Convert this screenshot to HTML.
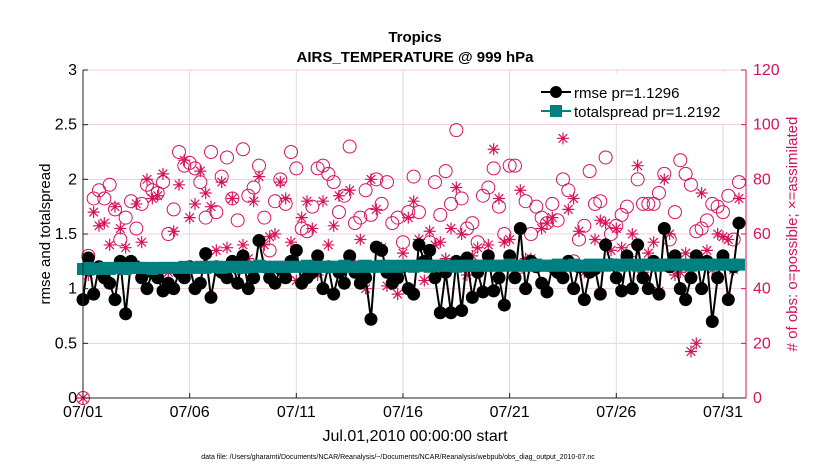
<!DOCTYPE html>
<html><head><meta charset="utf-8">
<style>
body{margin:0;background:#fff;}
svg{display:block;font-family:"Liberation Sans",Arial,sans-serif;}
</style></head>
<body>
<svg id="chart" width="830" height="470" viewBox="0 0 830 470" xmlns="http://www.w3.org/2000/svg">
<text x="415" y="42" text-anchor="middle" font-size="15" font-weight="bold">Tropics</text>
<text x="415" y="62" text-anchor="middle" font-size="15" font-weight="bold">AIRS_TEMPERATURE @ 999 hPa</text>
<g id="grid"></g>
<g id="obs"></g>
<g id="lines"></g>
<g id="axes"></g>
<text transform="translate(50,234) rotate(-90)" text-anchor="middle" font-size="15">rmse and totalspread</text>
<text transform="translate(797,234) rotate(-90)" text-anchor="middle" font-size="15" fill="#d6135a"># of obs: o=possible; ×=assimilated</text>
<text x="415" y="441" text-anchor="middle" font-size="16">Jul.01,2010 00:00:00 start</text>
<text x="398" y="459" text-anchor="middle" font-size="7">data file: /Users/gharamti/Documents/NCAR/Reanalysis/~/Documents/NCAR/Reanalysis/webpub/obs_diag_output_2010-07.nc</text>
<g>
<rect x="531" y="73" width="212" height="50" fill="#fff"/>
<g>
<line x1="541" y1="92" x2="571" y2="92" stroke="#000" stroke-width="2"/><circle cx="556" cy="92" r="6" fill="#000"/>
<text x="574" y="98" font-size="15">rmse pr=1.1296</text></g>
<g>
<line x1="541" y1="111" x2="571" y2="111" stroke="#008080" stroke-width="2"/><rect x="550" y="105" width="12" height="12" fill="#008080"/>
<text x="574" y="117" font-size="15">totalspread pr=1.2192</text></g>
</g>
</svg>
<script>
const xTickLabels=["07/01","07/06","07/11","07/16","07/21","07/26","07/31"];
const xTickDays=[1,6,11,16,21,26,31];
const yLeftTicks=["0","0.5","1","1.5","2","2.5","3"];
const yRightTicks=["0","20","40","60","80","100","120"];
const rmse=[0.9,1.28,0.95,1.2,1.1,1.05,0.9,1.25,0.77,1.25,1.2,1.1,1.0,1.15,1.1,0.98,1.05,1.0,1.15,1.1,1.2,1.0,1.05,1.32,0.92,1.2,1.15,1.1,1.25,1.05,1.3,1.0,1.1,1.44,1.2,1.1,1.05,1.18,1.1,1.25,1.35,1.05,1.1,1.15,1.3,1.0,1.2,0.95,1.15,1.05,1.3,1.15,1.05,1.1,0.72,1.38,1.35,1.15,1.05,1.1,1.2,1.0,0.95,1.4,1.25,1.35,1.1,0.78,1.15,0.78,1.25,0.8,1.28,0.92,1.15,0.97,1.3,0.98,1.1,0.85,1.3,1.1,1.55,1.0,1.25,1.2,1.05,0.97,1.2,1.15,1.1,1.25,1.0,1.2,0.9,1.15,1.18,0.95,1.4,1.22,1.1,0.98,1.3,1.0,1.4,1.1,1.0,1.25,0.95,1.55,1.2,1.3,1.0,0.9,1.1,1.3,1.0,1.25,0.7,1.1,1.3,0.9,1.2,1.6];
const spread=[1.18,1.19,1.18,1.18,1.19,1.18,1.19,1.19,1.18,1.19,1.19,1.19,1.19,1.18,1.19,1.19,1.19,1.19,1.19,1.2,1.19,1.19,1.2,1.19,1.2,1.2,1.19,1.2,1.2,1.2,1.19,1.2,1.2,1.21,1.2,1.2,1.2,1.2,1.2,1.2,1.2,1.2,1.21,1.2,1.2,1.2,1.2,1.2,1.2,1.21,1.2,1.2,1.2,1.21,1.2,1.2,1.21,1.2,1.21,1.2,1.21,1.21,1.2,1.21,1.21,1.2,1.21,1.21,1.21,1.21,1.2,1.21,1.21,1.21,1.21,1.21,1.21,1.21,1.21,1.21,1.22,1.21,1.21,1.21,1.21,1.22,1.21,1.21,1.21,1.22,1.21,1.21,1.22,1.21,1.21,1.22,1.21,1.22,1.21,1.22,1.22,1.21,1.22,1.22,1.21,1.22,1.22,1.22,1.21,1.22,1.22,1.22,1.22,1.22,1.21,1.22,1.22,1.22,1.22,1.22,1.22,1.22,1.22,1.22];
const possible=[0,52,73,76,73,78,69,58,66,72,62,71,78,76,75,79,60,69,90,85,86,84,79,66,90,68,81,88,73,65,91,74,77,85,66,54,72,80,71,90,84,62,61,70,84,85,82,79,68,74,92,64,66,76,67,80,71,79,64,66,57,68,81,68,53,57,79,67,83,71,98,73,62,64,57,74,77,84,70,60,85,85,48,72,60,70,66,64,71,65,80,76,50,58,63,83,71,72,88,60,63,67,70,54,80,71,71,71,75,82,58,68,87,82,78,61,62,65,71,70,68,74,58,79];
const assim=[0,45,68,63,64,56,70,62,55,49,71,57,80,73,74,82,46,61,78,87,66,71,83,75,70,54,79,55,73,47,56,51,72,81,56,59,60,79,73,57,43,66,72,62,45,72,56,63,74,48,76,49,58,40,80,69,55,41,42,38,53,66,72,58,43,61,56,57,51,62,77,60,45,52,55,48,56,91,73,57,58,47,76,51,51,49,62,64,66,47,95,69,73,61,46,48,58,65,64,54,62,55,49,60,85,46,53,57,39,80,60,45,46,53,17,20,75,54,47,60,59,58,47,73];

const NS="http://www.w3.org/2000/svg";
const L=83,R=746,T=70,B=398,D0=1,D1=32.08;
const xs=d=>L+(d-D0)/(D1-D0)*(R-L);
const yl=v=>B-v/3*(B-T);
const yr=v=>B-v/120*(B-T);
const dayOf=i=>1+i*0.25;
function mk(tag,attrs,parent){const e=document.createElementNS(NS,tag);for(const k in attrs)e.setAttribute(k,attrs[k]);parent.appendChild(e);return e;}
const grid=document.getElementById('grid'),axes=document.getElementById('axes'),obs=document.getElementById('obs'),lines=document.getElementById('lines');
mk('rect',{x:L,y:T,width:R-L,height:B-T,fill:'#fff'},grid);
yLeftTicks.forEach((t,i)=>{const y=yl(parseFloat(t));
 const g=mk('line',{x1:L,x2:R,y1:y,y2:y,stroke:'#f3cde0','stroke-width':1},grid);
 
 
 const tl=mk('text',{x:L-6,y:y+5,'text-anchor':'end','font-size':16},axes);tl.textContent=t;
 
 
 mk('line',{x1:L,x2:L+5,y1:y,y2:y,stroke:'#222'},axes);
});
yRightTicks.forEach((t,i)=>{const y=yr(parseFloat(t));
 const tl=mk('text',{x:R+7,y:y+5,'font-size':16,fill:'#d6135a'},axes);tl.textContent=t;
 
 
 mk('line',{x1:R-5,x2:R,y1:y,y2:y,stroke:'#d6135a'},axes);
});
xTickDays.forEach((d,i)=>{const x=xs(d);
 const g=mk('line',{x1:x,x2:x,y1:T,y2:B,stroke:'#dcdcdc'},grid);
 
 
 mk('line',{x1:x,x2:x,y1:B,y2:B-5,stroke:'#222'},axes);
 const tl=mk('text',{x:x,y:B+19,'text-anchor':'middle','font-size':16},axes);tl.textContent=xTickLabels[i];
 
 
});
mk('line',{x1:L,x2:L,y1:T,y2:B,stroke:'#222'},axes);
mk('line',{x1:L,x2:R,y1:B,y2:B,stroke:'#222'},axes);
mk('line',{x1:R,x2:R,y1:T,y2:B,stroke:'#d6135a'},axes);
possible.forEach((v,i)=>{const c=mk('circle',{cx:xs(dayOf(i)),cy:yr(v),r:6.5,fill:'none',stroke:'#d6135a','stroke-width':1},obs);
 
 });
assim.forEach((v,i)=>{const x=xs(dayOf(i)),y=yr(v),s=6;
 const p=mk('path',{d:`M${x-s} ${y}H${x+s}M${x} ${y-s}V${y+s}M${x-4.3} ${y-4.3}L${x+4.3} ${y+4.3}M${x-4.3} ${y+4.3}L${x+4.3} ${y-4.3}`,stroke:'#d6135a','stroke-width':1.2,fill:'none'},obs);
 
 });
const rl=mk('polyline',{points:rmse.map((v,i)=>xs(dayOf(i))+','+yl(v)).join(' '),fill:'none',stroke:'#000','stroke-width':2},lines);


rmse.forEach((v,i)=>{const c=mk('circle',{cx:xs(dayOf(i)),cy:yl(v),r:6.5,fill:'#000'},lines);
 
 });
const sl=mk('polyline',{points:spread.map((v,i)=>xs(dayOf(i))+','+yl(v)).join(' '),fill:'none',stroke:'#008080','stroke-width':2},lines);


spread.forEach((v,i)=>{const r=mk('rect',{x:xs(dayOf(i))-6,y:yl(v)-6,width:12,height:12,fill:'#008080'},lines);
 
 });
</script>
</body></html>
